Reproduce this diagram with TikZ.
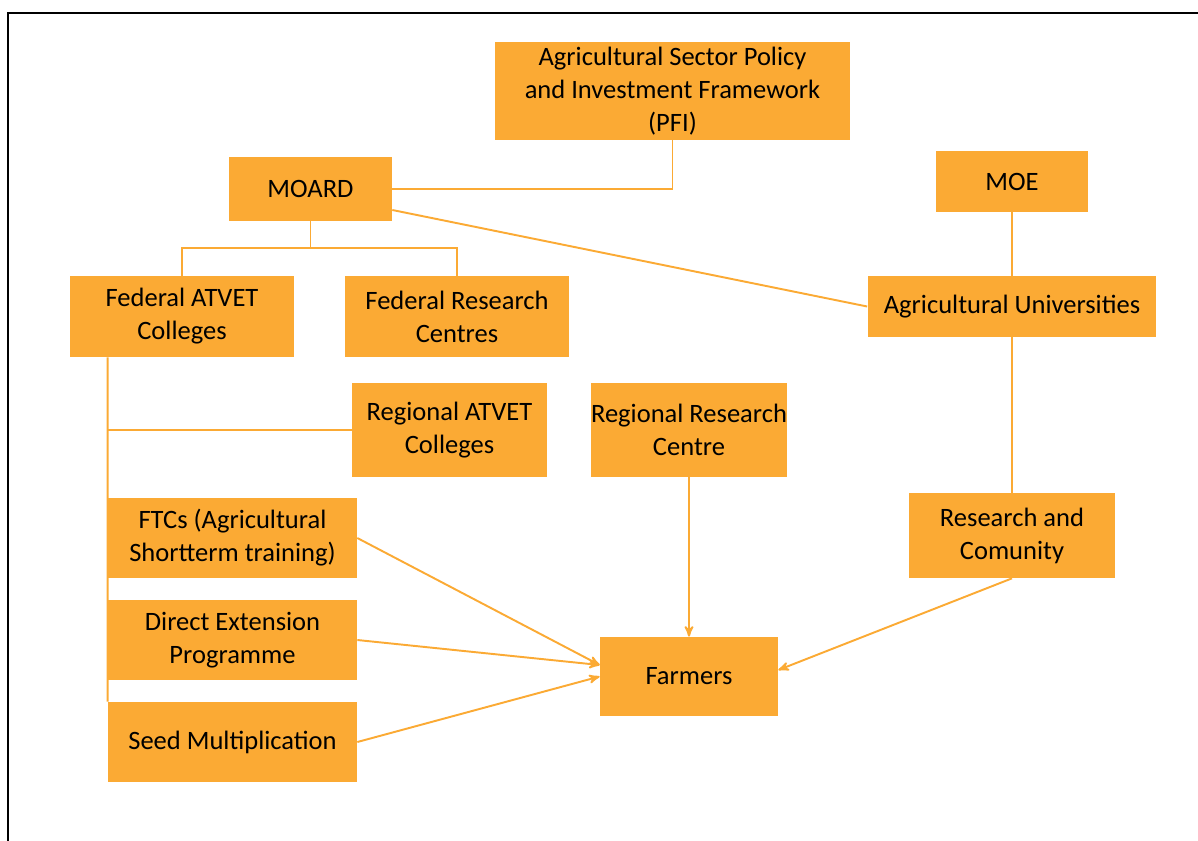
\documentclass[tikz,border=0pt]{standalone}
\usepackage{fontspec}
\setmainfont{Carlito}
\usetikzlibrary{arrows}
\definecolor{orgorange}{RGB}{251,170,52}
\tikzset{
  orgnode/.style = {align=center, inner sep=0pt, fill=orgorange,
    font=\fontsize{15.1}{18.8}\selectfont},
  orgsize/.style 2 args = {minimum width=#1, minimum height=#2},% box size
  orglink/.style = {draw=orgorange, line width=1.1pt},
  orgarrow/.style = {orglink, ->, >=stealth'}% arrow into Farmers
}
\begin{document}
\begin{tikzpicture}[x=0.02cm,y=-0.02cm]
\useasboundingbox (0,0) rectangle (1198,840);
\clip (0,0) rectangle (1198,840);
\draw[line width=1.4pt] (8,860) -- (8,13) -- (1220,13); % frame, cut at the page edge

\node [orgnode, orgsize={7.1cm}{1.96cm}] (pfi) at (672.5,91)
  {Agricultural Sector Policy\\and Investment Framework\\(PFI)};
\node [orgnode, orgsize={3.26cm}{1.28cm}] (moard) at (310.5,189) {MOARD};
\node [orgnode, orgsize={3.06cm}{1.22cm}] (moe) at (1012,181.5) {MOE};
\node [orgnode, orgsize={4.48cm}{1.62cm}] (fatvet) at (182,316.5) {Federal ATVET\\Colleges};
\node [orgnode, orgsize={4.48cm}{1.62cm}] (fres) at (457,316.5) {Federal Research\\Centres};
\node [orgnode, orgsize={5.78cm}{1.22cm}] (auni) at (1012,306.5) {Agricultural Universities};
\node [orgnode, orgsize={3.9cm}{1.88cm}] (ratvet) at (449.5,430) {Regional ATVET\\Colleges};
\node [orgnode, orgsize={3.88cm}{1.88cm}] (rres) at (689,430) {Regional Research\\Centre};
\node [orgnode, orgsize={4.98cm}{1.6cm}] (ftc) at (232.5,538) {FTCs (Agricultural\\Shortterm training)};
\node [orgnode, orgsize={4.98cm}{1.6cm}] (dext) at (232.5,640) {Direct Extension\\Programme};
\node [orgnode, orgsize={4.98cm}{1.6cm}] (seed) at (232.5,742) {Seed Multiplication};
\node [orgnode, orgsize={4.14cm}{1.7cm}] (rcom) at (1012,535.5) {Research and\\Comunity};
\node [orgnode, orgsize={3.56cm}{1.58cm}] (farm) at (689,676.5) {Farmers};

\coordinate (mbus) at (305,248); % MOARD branch point
\draw [orglink] (moard.east) -| (pfi.south);
\draw [orglink] ([yshift=-0.42cm]moard.east) -- (auni.west);
\draw [orglink] (mbus -| moard.south) -- (moard.south);
\draw [orglink] (fatvet.north) |- (mbus) -| (fres.north);
\draw [orglink] (moe.south) -- (auni.north);
\draw [orglink] (auni.south) -- (rcom.north);
\draw [orglink] ([xshift=0.76cm]fatvet.south west) -- (seed.north west);
\draw [orglink] (ratvet.west) -- (ratvet.west -| ftc.west);

\draw [orgarrow] (ftc.east) -- ([yshift=0.23cm]farm.west);
\draw [orgarrow] (dext.east) -- ([yshift=0.23cm]farm.west);
\draw [orgarrow] (seed.east) -- (farm.west);
\draw [orgarrow] (rres.south) -- (farm.north);
\draw [orgarrow] (rcom.south) -- ([yshift=0.13cm]farm.east);
\end{tikzpicture}
\end{document}
